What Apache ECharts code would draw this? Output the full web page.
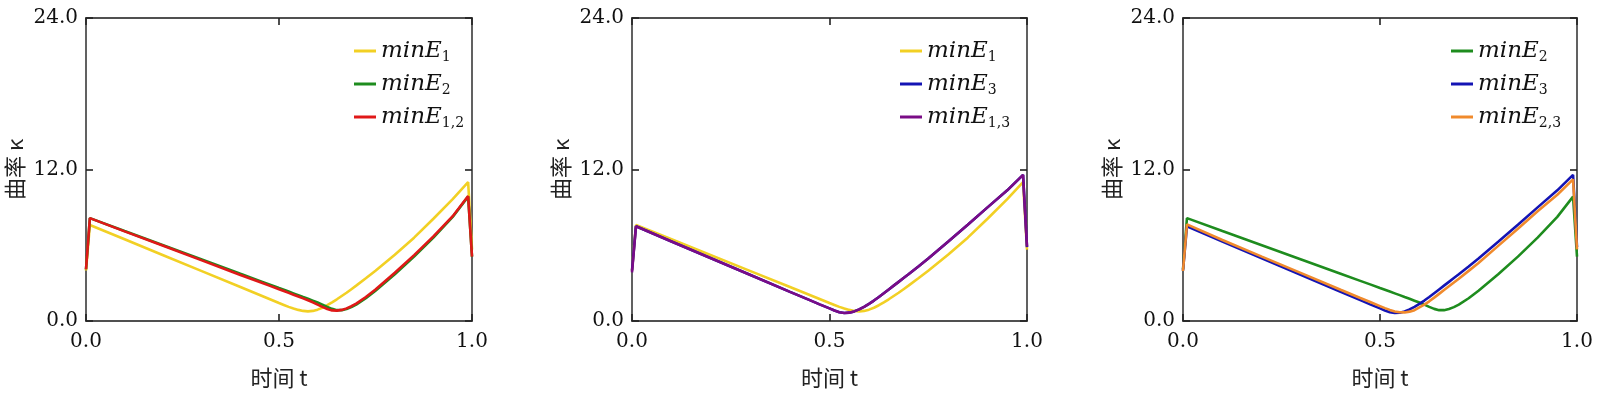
<!DOCTYPE html>
<html>
<head>
<meta charset="utf-8">
<script src="https://cdn.jsdelivr.net/npm/echarts@6/dist/echarts.min.js"></script>
<style>
  html, body { margin: 0; padding: 0; background: #fff; }
  #chart { width: 1600px; height: 394px; }
</style>
</head>
<body>
<div id="chart"></div>
<script>
// 时间 t 采样点（极小值附近加密）
const tVals = [0, 0.01, 0.1, 0.2, 0.3, 0.4, 0.45, 0.475, 0.5, 0.5125, 0.525, 0.5375, 0.55, 0.5625, 0.575, 0.5875,
  0.6, 0.6125, 0.625, 0.6375, 0.65, 0.6625, 0.675, 0.6875, 0.7, 0.725, 0.75, 0.8, 0.85, 0.9, 0.95, 0.99, 1.0]
// 曲率 κ
const kE1  = [4.0, 7.6, 6.47, 5.21, 3.95, 2.69, 2.06, 1.74, 1.42, 1.27, 1.12, 0.99, 0.88, 0.8, 0.76, 0.8,
  0.9, 1.05, 1.25, 1.48, 1.72, 1.98, 2.24, 2.52, 2.8, 3.38, 3.98, 5.25, 6.6, 8.1, 9.65, 11.0, 5.65]
const kE2  = [4.1, 8.15, 7.13, 6.0, 4.87, 3.74, 3.18, 2.9, 2.61, 2.47, 2.33, 2.19, 2.05, 1.9, 1.76, 1.61,
  1.46, 1.3, 1.12, 0.96, 0.86, 0.86, 0.95, 1.1, 1.3, 1.8, 2.4, 3.7, 5.1, 6.6, 8.25, 9.85, 5.1]
const kE3  = [4.0, 7.5, 6.3, 4.97, 3.64, 2.31, 1.65, 1.32, 1.0, 0.83, 0.7, 0.63, 0.66, 0.76, 0.92, 1.12,
  1.36, 1.62, 1.9, 2.2, 2.5, 2.8, 3.1, 3.4, 3.7, 4.32, 4.95, 6.27, 7.62, 9.0, 10.35, 11.58, 5.85]
const kE12 = [4.1, 8.15, 7.1, 5.96, 4.8, 3.65, 3.09, 2.8, 2.51, 2.37, 2.23, 2.08, 1.94, 1.79, 1.64, 1.48,
  1.3, 1.12, 0.95, 0.84, 0.82, 0.88, 1.0, 1.17, 1.38, 1.9, 2.5, 3.82, 5.22, 6.7, 8.3, 9.9, 5.1]
const kE13 = [3.85, 7.5, 6.3, 4.97, 3.64, 2.31, 1.65, 1.32, 1.0, 0.83, 0.7, 0.63, 0.66, 0.76, 0.92, 1.12,
  1.36, 1.62, 1.9, 2.2, 2.5, 2.8, 3.1, 3.4, 3.7, 4.32, 4.95, 6.27, 7.62, 9.0, 10.35, 11.58, 5.9]
const kE23 = [3.96, 7.65, 6.42, 5.1, 3.79, 2.47, 1.82, 1.5, 1.18, 1.02, 0.88, 0.76, 0.69, 0.68, 0.74, 0.86,
  1.08, 1.3, 1.56, 1.85, 2.15, 2.45, 2.75, 3.05, 3.35, 3.97, 4.6, 5.95, 7.3, 8.7, 10.0, 11.22, 5.67]

const xTicks = [0, 0.5, 1.0]
const yTicks = [0, 12, 24]

const colors = {
  E1: '#f2d024',
  E2: '#1e8c1e',
  E3: '#1414b4',
  E12: '#e01818',
  E13: '#7a0c86',
  E23: '#f08a2c'
}
const subs = { E1: '1', E2: '2', E3: '3', E12: '1,2', E13: '1,3', E23: '2,3' }

// 每个子图：序列及顺序（后画的在上层）
const panels = [
  { left: 86, width: 386, names: ['E1', 'E2', 'E12'], data: [kE1, kE2, kE12] },
  { left: 632, width: 395, names: ['E1', 'E3', 'E13'], data: [kE1, kE3, kE13] },
  { left: 1183, width: 394, names: ['E2', 'E3', 'E23'], data: [kE2, kE3, kE23] }
]

const serif = 'DejaVu Serif'
const cjk = 'Noto Sans CJK SC'
const frameColor = '#505050'

const lineOf = () => ({ show: true, onZero: false, lineStyle: { color: frameColor, width: 1.8 } })
const tickOf = () => ({ show: true, inside: true, length: 7, lineStyle: { color: '#222', width: 1.6 } })

const grid = [], xAxis = [], yAxis = [], series = [], legend = []

panels.forEach((p, i) => {
  grid.push({ left: p.left, width: p.width, top: 18, height: 304 })

  // 下方主轴
  xAxis.push({
    gridIndex: i, type: 'value', min: 0, max: 1, interval: 0.5, position: 'bottom',
    name: '时间 t', nameLocation: 'middle', nameGap: 46,
    nameTextStyle: { fontFamily: cjk, fontSize: 22, color: '#222' },
    axisLine: lineOf(), axisTick: tickOf(),
    axisLabel: { margin: 11, fontFamily: serif, fontSize: 20, color: '#111',
      formatter: v => xTicks.includes(v) ? v.toFixed(1) : '' },
    splitLine: { show: false }
  })
  // 上方框线
  xAxis.push({
    gridIndex: i, type: 'value', min: 0, max: 1, interval: 0.5, position: 'top',
    axisLine: lineOf(), axisTick: tickOf(),
    axisLabel: { show: false }, splitLine: { show: false }
  })
  yAxis.push({
    gridIndex: i, type: 'value', min: 0, max: 24, interval: 12, position: 'left',
    name: '曲率 κ', nameLocation: 'middle', nameGap: 60,
    nameTextStyle: { fontFamily: cjk, fontSize: 22, color: '#222' },
    axisLine: lineOf(), axisTick: tickOf(),
    axisLabel: { margin: 8, fontFamily: serif, fontSize: 20, color: '#111',
      formatter: v => yTicks.includes(v) ? v.toFixed(1) : '' },
    splitLine: { show: false }
  })
  // 右侧框线
  yAxis.push({
    gridIndex: i, type: 'value', min: 0, max: 24, interval: 12, position: 'right',
    axisLine: lineOf(), axisTick: tickOf(),
    axisLabel: { show: false }, splitLine: { show: false }
  })

  const ids = []
  p.names.forEach((n, j) => {
    const id = 'p' + i + n
    ids.push(id)
    series.push({
      name: id, type: 'line', xAxisIndex: i * 2, yAxisIndex: i * 2,
      data: tVals.map((t, k) => [t, p.data[j][k]]),
      symbol: 'none', smooth: false,
      lineStyle: { color: colors[n], width: 2.6 },
      itemStyle: { color: colors[n] },
      z: 2 + j
    })
  })

  legend.push({
    data: ids, orient: 'vertical', left: p.left + 263, top: 33,
    itemWidth: 22, itemHeight: 3, itemGap: 7, icon: 'rect',
    formatter: name => '{i|minE}{s|' + subs[name.slice(2)] + '}',
    textStyle: {
      rich: {
        i: { fontFamily: serif, fontStyle: 'italic', fontSize: 23, lineHeight: 26, color: '#111' },
        s: { fontFamily: serif, fontSize: 14, lineHeight: 14, padding: [12, 0, 0, 0], color: '#111' }
      }
    },
    selectedMode: false
  })
})

const chart = echarts.init(document.getElementById('chart'))
chart.setOption({
  animation: false,
  grid, xAxis, yAxis, series, legend
})
window.addEventListener('resize', () => chart.resize())
</script>
</body>
</html>
